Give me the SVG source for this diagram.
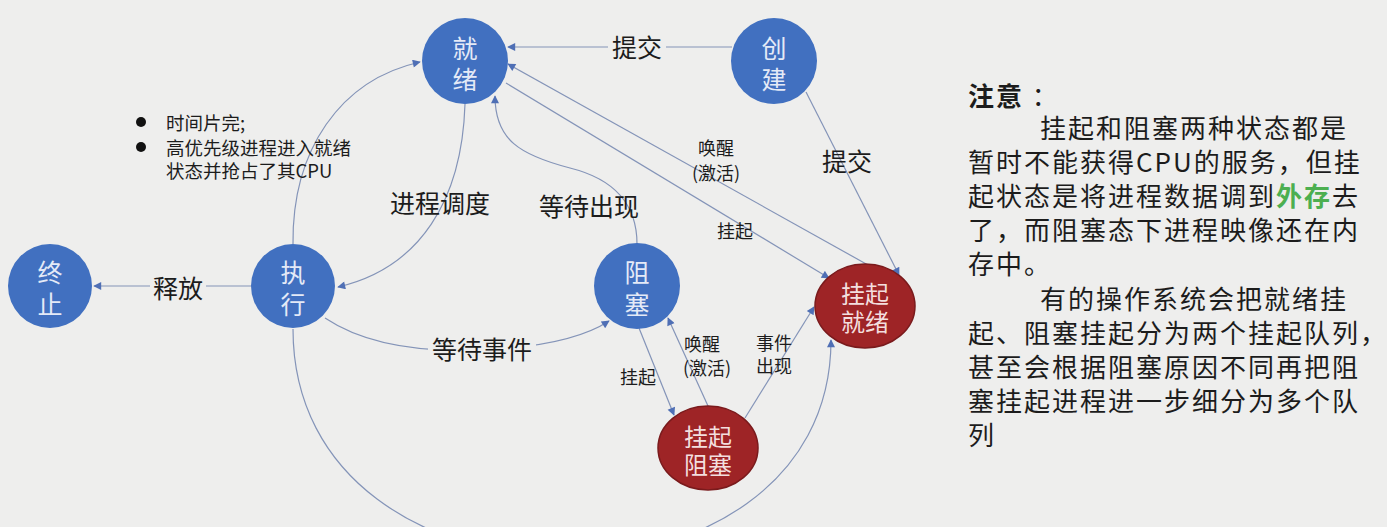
<svg xmlns="http://www.w3.org/2000/svg" width="1387" height="527" viewBox="0 0 1387 527">
<style>
.bg{fill:#eeeeed}
.blue{fill:#4170c0}
.red{fill:#9e2426;stroke:#7a1a1c;stroke-width:1.5}
.nt{font-family:"Noto Sans CJK SC","Noto Sans",sans-serif;font-size:25px;fill:#e4eaf7;text-anchor:middle;dominant-baseline:central}
.rt{font-family:"Noto Sans CJK SC","Noto Sans",sans-serif;font-size:24px;fill:#f3dede;text-anchor:middle;dominant-baseline:central}
.edge{fill:none;stroke:#8494b8;stroke-width:1.2}
.lb{font-family:"Noto Sans CJK SC","Noto Sans",sans-serif;font-size:25px;fill:#1c1c1c;text-anchor:middle;dominant-baseline:central}
.ls{font-family:"Noto Sans CJK SC","Noto Sans",sans-serif;font-size:18px;fill:#1c1c1c;text-anchor:middle;dominant-baseline:central}
.bt{font-family:"Noto Sans CJK SC","Noto Sans",sans-serif;font-size:18.5px;fill:#1c1c1c;dominant-baseline:central}
.nb{font-family:"Noto Sans CJK SC","Noto Sans",sans-serif;font-size:26px;fill:#1c1c1c;letter-spacing:2px;dominant-baseline:central}
.grn{fill:#4caf50;font-weight:bold}
</style>
<defs>
<marker id="arr" viewBox="0 0 10 10" refX="9" refY="5" markerWidth="10" markerHeight="8" markerUnits="userSpaceOnUse" orient="auto">
<path d="M0,0 L10,5 L0,10 z" fill="#4f6fb5"/>
</marker>
</defs>
<rect class="bg" x="0" y="0" width="1387" height="527"/>

<g id="connectors">
<path class="edge" marker-end="url(#arr)" d="M732,47 L508,47"/>
<rect class="bg" x="608" y="32" width="58" height="30"/>
<text class="lb" x="637" y="46">提交</text>

<path class="edge" marker-end="url(#arr)" d="M806,92 L899,275"/>
<text class="lb" x="847" y="160">提交</text>

<path class="edge" marker-end="url(#arr)" d="M868,265 L508,64"/>
<text class="ls" x="716" y="147">唤醒</text>
<text class="ls" x="716" y="172">(激活)</text>

<path class="edge" marker-end="url(#arr)" d="M506,83 L829,278"/>
<text class="ls" x="735" y="230">挂起</text>

<path class="edge" marker-end="url(#arr)" d="M465,104 C462,200 420,268 338,287"/>
<text class="lb" x="440" y="202">进程调度</text>

<path class="edge" marker-end="url(#arr)" d="M293,244 C292,150 340,80 420,62"/>

<path class="edge" marker-end="url(#arr)" d="M637,244 C637,200 610,178 570,168 C520,155 495,140 495,96"/>
<text class="lb" x="589" y="205">等待出现</text>

<path class="edge" marker-end="url(#arr)" d="M325,318 C370,348 430,352 480,350 C530,348 580,340 609,321"/>
<rect class="bg" x="428" y="333" width="108" height="30"/>
<text class="lb" x="482" y="348">等待事件</text>

<path class="edge" marker-end="url(#arr)" d="M251,286 L94,286"/>
<rect class="bg" x="150" y="272" width="56" height="30"/>
<text class="lb" x="178" y="287">释放</text>

<path class="edge" marker-end="url(#arr)" d="M639,328 L674,415"/>
<text class="ls" x="638" y="376">挂起</text>

<path class="edge" marker-end="url(#arr)" d="M708,406 L668,318"/>
<text class="ls" x="702" y="343">唤醒</text>
<text class="ls" x="707" y="367">(激活)</text>

<path class="edge" marker-end="url(#arr)" d="M745,418 L814,307"/>
<text class="ls" x="774" y="342">事件</text>
<text class="ls" x="774" y="365">出现</text>

<path class="edge" marker-end="url(#arr)" d="M293,329 C293,631 831,631 831,340"/>
</g>

<g id="node-ready">
<circle class="blue" cx="465" cy="61" r="43"/>
<text class="nt"><tspan x="465" y="47">就</tspan><tspan x="465" y="78">绪</tspan></text>
</g>
<g id="node-create">
<circle class="blue" cx="774" cy="61" r="43"/>
<text class="nt"><tspan x="774" y="47">创</tspan><tspan x="774" y="78">建</tspan></text>
</g>
<g id="node-end">
<circle class="blue" cx="50" cy="286" r="42"/>
<text class="nt"><tspan x="50" y="271">终</tspan><tspan x="50" y="303">止</tspan></text>
</g>
<g id="node-run">
<circle class="blue" cx="293" cy="286" r="42"/>
<text class="nt"><tspan x="293" y="271">执</tspan><tspan x="293" y="303">行</tspan></text>
</g>
<g id="node-block">
<circle class="blue" cx="637" cy="286" r="43"/>
<text class="nt"><tspan x="637" y="271">阻</tspan><tspan x="637" y="303">塞</tspan></text>
</g>
<g id="node-suspend-ready">
<ellipse class="red" cx="865" cy="306" rx="50" ry="42"/>
<text class="rt"><tspan x="865" y="292">挂起</tspan><tspan x="865" y="320">就绪</tspan></text>
</g>
<g id="node-suspend-block">
<ellipse class="red" cx="708" cy="448" rx="50" ry="42"/>
<text class="rt"><tspan x="708" y="435">挂起</tspan><tspan x="708" y="463">阻塞</tspan></text>
</g>

<g id="bullets">
<circle cx="141" cy="122" r="5" fill="#111"/>
<circle cx="141" cy="147" r="5" fill="#111"/>
<text class="bt"><tspan x="166" y="122">时间片完;</tspan><tspan x="166" y="147">高优先级进程进入就绪</tspan><tspan x="166" y="170">状态并抢占了其CPU</tspan></text>
</g>

<g id="note">
<text class="nb" x="968" y="94"><tspan font-weight="bold">注意</tspan> ：</text>
<text class="nb" x="1040" y="126">挂起和阻塞两种状态都是</text>
<text class="nb" x="968" y="160">暂时不能获得CPU的服务，但挂</text>
<text class="nb" x="968" y="194">起状态是将进程数据调到<tspan class="grn">外存</tspan>去</text>
<text class="nb" x="968" y="228">了，而阻塞态下进程映像还在内</text>
<text class="nb" x="968" y="262">存中。</text>
<text class="nb" x="1040" y="297">有的操作系统会把就绪挂</text>
<text class="nb" x="968" y="331">起、阻塞挂起分为两个挂起队列，</text>
<text class="nb" x="968" y="365">甚至会根据阻塞原因不同再把阻</text>
<text class="nb" x="968" y="399">塞挂起进程进一步细分为多个队</text>
<text class="nb" x="968" y="433">列</text>
</g>
</svg>
